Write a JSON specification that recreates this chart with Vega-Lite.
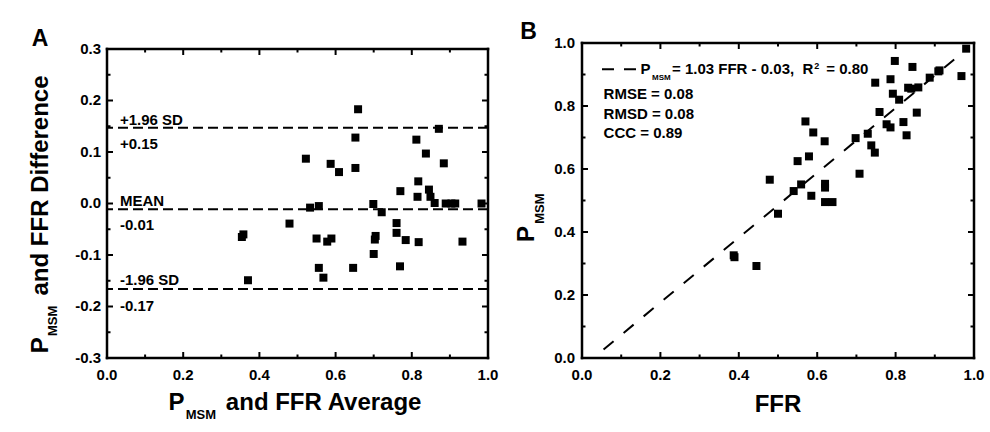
{
  "$schema": "https://vega.github.io/schema/vega-lite/v6.json",
  "background": "white",
  "padding": {"left": 29, "top": 20, "right": 5, "bottom": 5},
  "spacing": 94,
  "bounds": "flush",
  "datasets": {
    "unitTicks": [
      {"v": 0, "kind": "major"}, {"v": 0.1, "kind": "minor"}, {"v": 0.2, "kind": "major"}, {"v": 0.3, "kind": "minor"},
      {"v": 0.4, "kind": "major"}, {"v": 0.5, "kind": "minor"}, {"v": 0.6, "kind": "major"}, {"v": 0.7, "kind": "minor"},
      {"v": 0.8, "kind": "major"}, {"v": 0.9, "kind": "minor"}, {"v": 1, "kind": "major"}
    ],
    "diffTicks": [
      {"v": -0.3, "kind": "major"}, {"v": -0.25, "kind": "minor"}, {"v": -0.2, "kind": "major"}, {"v": -0.15, "kind": "minor"},
      {"v": -0.1, "kind": "major"}, {"v": -0.05, "kind": "minor"}, {"v": 0, "kind": "major"}, {"v": 0.05, "kind": "minor"},
      {"v": 0.1, "kind": "major"}, {"v": 0.15, "kind": "minor"}, {"v": 0.2, "kind": "major"}, {"v": 0.25, "kind": "minor"},
      {"v": 0.3, "kind": "major"}
    ],
    "unitLabels": [
      {"v": 0, "label": "0.0"}, {"v": 0.2, "label": "0.2"}, {"v": 0.4, "label": "0.4"},
      {"v": 0.6, "label": "0.6"}, {"v": 0.8, "label": "0.8"}, {"v": 1, "label": "1.0"}
    ],
    "diffLabels": [
      {"v": -0.3, "label": "-0.3"}, {"v": -0.2, "label": "-0.2"}, {"v": -0.1, "label": "-0.1"},
      {"v": 0, "label": "0.0"}, {"v": 0.1, "label": "0.1"}, {"v": 0.2, "label": "0.2"}, {"v": 0.3, "label": "0.3"}
    ]
  },
  "config": {
    "font": "Liberation Sans",
    "view": {"stroke": null},
    "text": {"font": "Liberation Sans", "fontWeight": "bold", "color": "black"}
  },
  "hconcat": [
    {
      "width": 381,
      "height": 315,
      "layer": [
        {
          "data": {"values": [
            {"avg": 0.354, "diff": -0.065}, {"avg": 0.358, "diff": -0.060}, {"avg": 0.370, "diff": -0.149},
            {"avg": 0.479, "diff": -0.039}, {"avg": 0.522, "diff": 0.087}, {"avg": 0.533, "diff": -0.008},
            {"avg": 0.556, "diff": -0.005}, {"avg": 0.550, "diff": -0.068}, {"avg": 0.556, "diff": -0.125},
            {"avg": 0.568, "diff": -0.144}, {"avg": 0.587, "diff": 0.077}, {"avg": 0.609, "diff": 0.061},
            {"avg": 0.578, "diff": -0.074}, {"avg": 0.589, "diff": -0.068}, {"avg": 0.659, "diff": 0.183},
            {"avg": 0.652, "diff": 0.128}, {"avg": 0.652, "diff": 0.069}, {"avg": 0.646, "diff": -0.125},
            {"avg": 0.699, "diff": -0.001}, {"avg": 0.721, "diff": -0.017}, {"avg": 0.705, "diff": -0.063},
            {"avg": 0.703, "diff": -0.070}, {"avg": 0.700, "diff": -0.098}, {"avg": 0.760, "diff": -0.038},
            {"avg": 0.760, "diff": -0.057}, {"avg": 0.770, "diff": 0.024}, {"avg": 0.769, "diff": -0.122},
            {"avg": 0.784, "diff": -0.071}, {"avg": 0.812, "diff": 0.124}, {"avg": 0.817, "diff": 0.043},
            {"avg": 0.815, "diff": 0.013}, {"avg": 0.818, "diff": -0.075}, {"avg": 0.837, "diff": 0.097},
            {"avg": 0.845, "diff": 0.027}, {"avg": 0.849, "diff": 0.013}, {"avg": 0.860, "diff": 0.001},
            {"avg": 0.871, "diff": 0.145}, {"avg": 0.884, "diff": 0.078}, {"avg": 0.889, "diff": 0.0},
            {"avg": 0.904, "diff": 0.0}, {"avg": 0.914, "diff": 0.0}, {"avg": 0.933, "diff": -0.074},
            {"avg": 0.983, "diff": 0.0}
          ]},
          "mark": {"type": "point", "shape": "square", "filled": true, "size": 64, "color": "black", "opacity": 1},
          "encoding": {
            "x": {"field": "avg", "type": "quantitative", "scale": {"domain": [0, 1], "nice": false, "zero": false}, "axis": null},
            "y": {"field": "diff", "type": "quantitative", "scale": {"domain": [-0.3, 0.31165], "nice": false, "zero": false}, "axis": null}
          }
        },
        {
          "data": {"values": [
            {"limit": "+1.96 SD", "value": 0.147},
            {"limit": "MEAN", "value": -0.011},
            {"limit": "-1.96 SD", "value": -0.166}
          ]},
          "mark": {"type": "rule", "color": "black", "strokeWidth": 2, "strokeDash": [10, 5]},
          "encoding": {
            "y": {"field": "value", "type": "quantitative", "axis": null}
          }
        },
        {
          "data": {"values": [{"edge": -0.3}, {"edge": 0.3}]},
          "mark": {"type": "rule", "color": "black", "strokeWidth": 2.5, "strokeCap": "square", "strokeDash": [2000, 1]},
          "encoding": {
            "y": {"field": "edge", "type": "quantitative", "axis": null},
            "x": {"datum": 0, "type": "quantitative", "axis": null},
            "x2": {"datum": 1}
          }
        },
        {
          "data": {"values": [{"edge": 0}, {"edge": 1}]},
          "mark": {"type": "rule", "color": "black", "strokeWidth": 2.5, "strokeCap": "square", "strokeDash": [2000, 1]},
          "encoding": {
            "x": {"field": "edge", "type": "quantitative", "axis": null},
            "y": {"datum": -0.3, "type": "quantitative", "axis": null},
            "y2": {"datum": 0.3}
          }
        },
        {
          "data": {"name": "unitTicks"},
          "transform": [{"filter": "datum.kind == 'major'"}],
          "mark": {"type": "rule", "color": "black", "strokeWidth": 2, "strokeDash": [2000, 1]},
          "encoding": {
            "x": {"field": "v", "type": "quantitative", "axis": null},
            "y": {"datum": -0.3, "type": "quantitative", "axis": null},
            "y2": {"datum": -0.28835}
          }
        },
        {
          "data": {"name": "unitTicks"},
          "transform": [{"filter": "datum.kind == 'minor'"}],
          "mark": {"type": "rule", "color": "black", "strokeWidth": 2, "strokeDash": [2000, 1]},
          "encoding": {
            "x": {"field": "v", "type": "quantitative", "axis": null},
            "y": {"datum": -0.3, "type": "quantitative", "axis": null},
            "y2": {"datum": -0.2932}
          }
        },
        {
          "data": {"name": "unitTicks"},
          "transform": [{"filter": "datum.kind == 'major'"}],
          "mark": {"type": "rule", "color": "black", "strokeWidth": 2, "strokeDash": [2000, 1]},
          "encoding": {
            "x": {"field": "v", "type": "quantitative", "axis": null},
            "y": {"datum": 0.3, "type": "quantitative", "axis": null},
            "y2": {"datum": 0.28835}
          }
        },
        {
          "data": {"name": "unitTicks"},
          "transform": [{"filter": "datum.kind == 'minor'"}],
          "mark": {"type": "rule", "color": "black", "strokeWidth": 2, "strokeDash": [2000, 1]},
          "encoding": {
            "x": {"field": "v", "type": "quantitative", "axis": null},
            "y": {"datum": 0.3, "type": "quantitative", "axis": null},
            "y2": {"datum": 0.2932}
          }
        },
        {
          "data": {"name": "diffTicks"},
          "transform": [{"filter": "datum.kind == 'major'"}],
          "mark": {"type": "rule", "color": "black", "strokeWidth": 2, "strokeDash": [2000, 1]},
          "encoding": {
            "y": {"field": "v", "type": "quantitative", "axis": null},
            "x": {"datum": 0, "type": "quantitative", "axis": null},
            "x2": {"datum": 0.01575}
          }
        },
        {
          "data": {"name": "diffTicks"},
          "transform": [{"filter": "datum.kind == 'minor'"}],
          "mark": {"type": "rule", "color": "black", "strokeWidth": 2, "strokeDash": [2000, 1]},
          "encoding": {
            "y": {"field": "v", "type": "quantitative", "axis": null},
            "x": {"datum": 0, "type": "quantitative", "axis": null},
            "x2": {"datum": 0.0092}
          }
        },
        {
          "data": {"name": "diffTicks"},
          "transform": [{"filter": "datum.kind == 'major'"}],
          "mark": {"type": "rule", "color": "black", "strokeWidth": 2, "strokeDash": [2000, 1]},
          "encoding": {
            "y": {"field": "v", "type": "quantitative", "axis": null},
            "x": {"datum": 1, "type": "quantitative", "axis": null},
            "x2": {"datum": 0.98425}
          }
        },
        {
          "data": {"name": "diffTicks"},
          "transform": [{"filter": "datum.kind == 'minor'"}],
          "mark": {"type": "rule", "color": "black", "strokeWidth": 2, "strokeDash": [2000, 1]},
          "encoding": {
            "y": {"field": "v", "type": "quantitative", "axis": null},
            "x": {"datum": 1, "type": "quantitative", "axis": null},
            "x2": {"datum": 0.9908}
          }
        },
        {
          "data": {"name": "unitLabels"},
          "mark": {"type": "text", "fontSize": 15, "align": "center", "baseline": "top"},
          "encoding": {
            "text": {"field": "label"},
            "x": {"field": "v", "type": "quantitative", "axis": null},
            "y": {"datum": -0.3194, "type": "quantitative", "axis": null}
          }
        },
        {
          "data": {"name": "diffLabels"},
          "mark": {"type": "text", "fontSize": 15, "align": "right", "baseline": "middle"},
          "encoding": {
            "text": {"field": "label"},
            "y": {"field": "v", "type": "quantitative", "axis": null},
            "x": {"datum": -0.01575, "type": "quantitative", "axis": null}
          }
        },
        {
          "data": {"values": [
            {"label": "+1.96 SD", "lx": 0.034, "ly": 0.1515},
            {"label": "+0.15", "lx": 0.034, "ly": 0.1062},
            {"label": "MEAN", "lx": 0.034, "ly": -0.0045},
            {"label": "-0.01", "lx": 0.034, "ly": -0.0511},
            {"label": "-1.96 SD", "lx": 0.034, "ly": -0.1592},
            {"label": "-0.17", "lx": 0.034, "ly": -0.2097}
          ]},
          "mark": {"type": "text", "fontSize": 15, "align": "left", "baseline": "alphabetic"},
          "encoding": {
            "text": {"field": "label"},
            "x": {"field": "lx", "type": "quantitative", "axis": null},
            "y": {"field": "ly", "type": "quantitative", "axis": null}
          }
        },
        {
          "data": {"values": [{}]},
          "mark": {"type": "text", "text": "A", "fontSize": 23, "align": "left", "baseline": "alphabetic"},
          "encoding": {"x": {"datum": -0.1976, "type": "quantitative", "axis": null}, "y": {"datum": 0.3049, "type": "quantitative", "axis": null}}
        },
        {
          "data": {"values": [{}]},
          "mark": {"type": "text", "text": "P", "fontSize": 24, "align": "left", "baseline": "alphabetic"},
          "encoding": {"x": {"datum": 0.1614, "type": "quantitative", "axis": null}, "y": {"datum": -0.4006, "type": "quantitative", "axis": null}}
        },
        {
          "data": {"values": [{}]},
          "mark": {"type": "text", "text": "MSM", "fontSize": 13, "align": "left", "baseline": "alphabetic"},
          "encoding": {"x": {"datum": 0.2066, "type": "quantitative", "axis": null}, "y": {"datum": -0.4188, "type": "quantitative", "axis": null}}
        },
        {
          "data": {"values": [{}]},
          "mark": {"type": "text", "text": "and FFR Average", "fontSize": 24, "align": "left", "baseline": "alphabetic"},
          "encoding": {"x": {"datum": 0.312, "type": "quantitative", "axis": null}, "y": {"datum": -0.4006, "type": "quantitative", "axis": null}}
        },
        {
          "data": {"values": [{}]},
          "mark": {"type": "text", "text": "P", "fontSize": 24, "angle": 270, "align": "left", "baseline": "alphabetic"},
          "encoding": {"x": {"datum": -0.154, "type": "quantitative", "axis": null}, "y": {"datum": -0.2909, "type": "quantitative", "axis": null}}
        },
        {
          "data": {"values": [{}]},
          "mark": {"type": "text", "text": "MSM", "fontSize": 13, "angle": 270, "align": "left", "baseline": "alphabetic"},
          "encoding": {"x": {"datum": -0.132, "type": "quantitative", "axis": null}, "y": {"datum": -0.2573, "type": "quantitative", "axis": null}}
        },
        {
          "data": {"values": [{}]},
          "mark": {"type": "text", "text": "and FFR Difference", "fontSize": 24, "angle": 270, "align": "left", "baseline": "alphabetic"},
          "encoding": {"x": {"datum": -0.154, "type": "quantitative", "axis": null}, "y": {"datum": -0.1786, "type": "quantitative", "axis": null}}
        }
      ]
    },
    {
      "width": 392,
      "height": 315,
      "layer": [
        {
          "data": {"values": [
            {"ffr": 0.387, "pmsm": 0.326}, {"ffr": 0.389, "pmsm": 0.320}, {"ffr": 0.445, "pmsm": 0.292},
            {"ffr": 0.479, "pmsm": 0.566}, {"ffr": 0.500, "pmsm": 0.458}, {"ffr": 0.540, "pmsm": 0.530},
            {"ffr": 0.550, "pmsm": 0.625}, {"ffr": 0.559, "pmsm": 0.551}, {"ffr": 0.570, "pmsm": 0.751},
            {"ffr": 0.579, "pmsm": 0.640}, {"ffr": 0.585, "pmsm": 0.515}, {"ffr": 0.590, "pmsm": 0.716},
            {"ffr": 0.619, "pmsm": 0.688}, {"ffr": 0.620, "pmsm": 0.553}, {"ffr": 0.620, "pmsm": 0.541},
            {"ffr": 0.620, "pmsm": 0.495}, {"ffr": 0.639, "pmsm": 0.495}, {"ffr": 0.698, "pmsm": 0.698},
            {"ffr": 0.708, "pmsm": 0.585}, {"ffr": 0.729, "pmsm": 0.712}, {"ffr": 0.738, "pmsm": 0.675},
            {"ffr": 0.747, "pmsm": 0.652}, {"ffr": 0.748, "pmsm": 0.874}, {"ffr": 0.759, "pmsm": 0.781},
            {"ffr": 0.777, "pmsm": 0.742}, {"ffr": 0.787, "pmsm": 0.732}, {"ffr": 0.787, "pmsm": 0.885},
            {"ffr": 0.798, "pmsm": 0.943}, {"ffr": 0.793, "pmsm": 0.839}, {"ffr": 0.809, "pmsm": 0.820},
            {"ffr": 0.820, "pmsm": 0.749}, {"ffr": 0.828, "pmsm": 0.707}, {"ffr": 0.832, "pmsm": 0.858},
            {"ffr": 0.843, "pmsm": 0.924}, {"ffr": 0.840, "pmsm": 0.855}, {"ffr": 0.858, "pmsm": 0.859},
            {"ffr": 0.854, "pmsm": 0.779}, {"ffr": 0.887, "pmsm": 0.890}, {"ffr": 0.909, "pmsm": 0.910},
            {"ffr": 0.912, "pmsm": 0.913}, {"ffr": 0.968, "pmsm": 0.895}, {"ffr": 0.980, "pmsm": 0.982}
          ]},
          "mark": {"type": "point", "shape": "square", "filled": true, "size": 64, "color": "black", "opacity": 1},
          "encoding": {
            "x": {"field": "ffr", "type": "quantitative", "scale": {"domain": [0, 1], "nice": false, "zero": false}, "axis": null},
            "y": {"field": "pmsm", "type": "quantitative", "scale": {"domain": [0, 1], "nice": false, "zero": false}, "axis": null}
          }
        },
        {
          "data": {"values": [
            {"ffr": 0.055, "fit": 0.027},
            {"ffr": 0.98, "fit": 0.979}
          ]},
          "mark": {"type": "line", "color": "black", "strokeWidth": 2, "strokeDash": [13, 13]},
          "encoding": {
            "x": {"field": "ffr", "type": "quantitative", "axis": null},
            "y": {"field": "fit", "type": "quantitative", "axis": null}
          }
        },
        {
          "data": {"values": [{"edge": 0}, {"edge": 1}]},
          "mark": {"type": "rule", "color": "black", "strokeWidth": 2.5, "strokeCap": "square", "strokeDash": [2000, 1]},
          "encoding": {
            "y": {"field": "edge", "type": "quantitative", "axis": null},
            "x": {"datum": 0, "type": "quantitative", "axis": null},
            "x2": {"datum": 1}
          }
        },
        {
          "data": {"values": [{"edge": 0}, {"edge": 1}]},
          "mark": {"type": "rule", "color": "black", "strokeWidth": 2.5, "strokeCap": "square", "strokeDash": [2000, 1]},
          "encoding": {
            "x": {"field": "edge", "type": "quantitative", "axis": null},
            "y": {"datum": 0, "type": "quantitative", "axis": null},
            "y2": {"datum": 1}
          }
        },
        {
          "data": {"name": "unitTicks"},
          "transform": [{"filter": "datum.kind == 'major'"}],
          "mark": {"type": "rule", "color": "black", "strokeWidth": 2, "strokeDash": [2000, 1]},
          "encoding": {
            "x": {"field": "v", "type": "quantitative", "axis": null},
            "y": {"datum": 0, "type": "quantitative", "axis": null},
            "y2": {"datum": 0.019}
          }
        },
        {
          "data": {"name": "unitTicks"},
          "transform": [{"filter": "datum.kind == 'minor'"}],
          "mark": {"type": "rule", "color": "black", "strokeWidth": 2, "strokeDash": [2000, 1]},
          "encoding": {
            "x": {"field": "v", "type": "quantitative", "axis": null},
            "y": {"datum": 0, "type": "quantitative", "axis": null},
            "y2": {"datum": 0.0111}
          }
        },
        {
          "data": {"name": "unitTicks"},
          "transform": [{"filter": "datum.kind == 'major'"}],
          "mark": {"type": "rule", "color": "black", "strokeWidth": 2, "strokeDash": [2000, 1]},
          "encoding": {
            "x": {"field": "v", "type": "quantitative", "axis": null},
            "y": {"datum": 1, "type": "quantitative", "axis": null},
            "y2": {"datum": 0.981}
          }
        },
        {
          "data": {"name": "unitTicks"},
          "transform": [{"filter": "datum.kind == 'minor'"}],
          "mark": {"type": "rule", "color": "black", "strokeWidth": 2, "strokeDash": [2000, 1]},
          "encoding": {
            "x": {"field": "v", "type": "quantitative", "axis": null},
            "y": {"datum": 1, "type": "quantitative", "axis": null},
            "y2": {"datum": 0.9889}
          }
        },
        {
          "data": {"name": "unitTicks"},
          "transform": [{"filter": "datum.kind == 'major'"}],
          "mark": {"type": "rule", "color": "black", "strokeWidth": 2, "strokeDash": [2000, 1]},
          "encoding": {
            "y": {"field": "v", "type": "quantitative", "axis": null},
            "x": {"datum": 0, "type": "quantitative", "axis": null},
            "x2": {"datum": 0.0153}
          }
        },
        {
          "data": {"name": "unitTicks"},
          "transform": [{"filter": "datum.kind == 'minor'"}],
          "mark": {"type": "rule", "color": "black", "strokeWidth": 2, "strokeDash": [2000, 1]},
          "encoding": {
            "y": {"field": "v", "type": "quantitative", "axis": null},
            "x": {"datum": 0, "type": "quantitative", "axis": null},
            "x2": {"datum": 0.0089}
          }
        },
        {
          "data": {"name": "unitTicks"},
          "transform": [{"filter": "datum.kind == 'major'"}],
          "mark": {"type": "rule", "color": "black", "strokeWidth": 2, "strokeDash": [2000, 1]},
          "encoding": {
            "y": {"field": "v", "type": "quantitative", "axis": null},
            "x": {"datum": 1, "type": "quantitative", "axis": null},
            "x2": {"datum": 0.9847}
          }
        },
        {
          "data": {"name": "unitTicks"},
          "transform": [{"filter": "datum.kind == 'minor'"}],
          "mark": {"type": "rule", "color": "black", "strokeWidth": 2, "strokeDash": [2000, 1]},
          "encoding": {
            "y": {"field": "v", "type": "quantitative", "axis": null},
            "x": {"datum": 1, "type": "quantitative", "axis": null},
            "x2": {"datum": 0.9911}
          }
        },
        {
          "data": {"name": "unitLabels"},
          "mark": {"type": "text", "fontSize": 15, "align": "center", "baseline": "top"},
          "encoding": {
            "text": {"field": "label"},
            "x": {"field": "v", "type": "quantitative", "axis": null},
            "y": {"datum": -0.0317, "type": "quantitative", "axis": null}
          }
        },
        {
          "data": {"name": "unitLabels"},
          "mark": {"type": "text", "fontSize": 15, "align": "right", "baseline": "middle"},
          "encoding": {
            "text": {"field": "label"},
            "y": {"field": "v", "type": "quantitative", "axis": null},
            "x": {"datum": -0.01786, "type": "quantitative", "axis": null}
          }
        },
        {
          "data": {"values": [{}]},
          "mark": {"type": "rule", "color": "black", "strokeWidth": 2, "strokeDash": [12, 10]},
          "encoding": {"x": {"datum": 0.051, "type": "quantitative", "axis": null}, "x2": {"datum": 0.138}, "y": {"datum": 0.9165, "type": "quantitative", "axis": null}}
        },
        {
          "data": {"values": [{}]},
          "mark": {"type": "text", "text": "P", "fontSize": 15, "align": "left", "baseline": "alphabetic"},
          "encoding": {"x": {"datum": 0.149, "type": "quantitative", "axis": null}, "y": {"datum": 0.9025, "type": "quantitative", "axis": null}}
        },
        {
          "data": {"values": [{}]},
          "mark": {"type": "text", "text": "MSM", "fontSize": 8, "align": "left", "baseline": "alphabetic"},
          "encoding": {"x": {"datum": 0.1786, "type": "quantitative", "axis": null}, "y": {"datum": 0.8815, "type": "quantitative", "axis": null}}
        },
        {
          "data": {"values": [{}]},
          "mark": {"type": "text", "text": "= 1.03 FFR - 0.03,\u00a0 R", "fontSize": 15, "align": "left", "baseline": "alphabetic"},
          "encoding": {"x": {"datum": 0.2296, "type": "quantitative", "axis": null}, "y": {"datum": 0.9025, "type": "quantitative", "axis": null}}
        },
        {
          "data": {"values": [{}]},
          "mark": {"type": "text", "text": "2", "fontSize": 9, "align": "left", "baseline": "alphabetic"},
          "encoding": {"x": {"datum": 0.5926, "type": "quantitative", "axis": null}, "y": {"datum": 0.918, "type": "quantitative", "axis": null}}
        },
        {
          "data": {"values": [{}]},
          "mark": {"type": "text", "text": "= 0.80", "fontSize": 15, "align": "left", "baseline": "alphabetic"},
          "encoding": {"x": {"datum": 0.6232, "type": "quantitative", "axis": null}, "y": {"datum": 0.9025, "type": "quantitative", "axis": null}}
        },
        {
          "data": {"values": [{}]},
          "mark": {"type": "text", "text": "RMSE = 0.08", "fontSize": 15, "align": "left", "baseline": "alphabetic"},
          "encoding": {"x": {"datum": 0.0551, "type": "quantitative", "axis": null}, "y": {"datum": 0.8213, "type": "quantitative", "axis": null}}
        },
        {
          "data": {"values": [{}]},
          "mark": {"type": "text", "text": "RMSD = 0.08", "fontSize": 15, "align": "left", "baseline": "alphabetic"},
          "encoding": {"x": {"datum": 0.0551, "type": "quantitative", "axis": null}, "y": {"datum": 0.7597, "type": "quantitative", "axis": null}}
        },
        {
          "data": {"values": [{}]},
          "mark": {"type": "text", "text": "CCC = 0.89", "fontSize": 15, "align": "left", "baseline": "alphabetic"},
          "encoding": {"x": {"datum": 0.0551, "type": "quantitative", "axis": null}, "y": {"datum": 0.6984, "type": "quantitative", "axis": null}}
        },
        {
          "data": {"values": [{}]},
          "mark": {"type": "text", "text": "B", "fontSize": 23, "align": "left", "baseline": "alphabetic"},
          "encoding": {"x": {"datum": -0.1574, "type": "quantitative", "axis": null}, "y": {"datum": 1.0137, "type": "quantitative", "axis": null}}
        },
        {
          "data": {"values": [{}]},
          "mark": {"type": "text", "text": "P", "fontSize": 24, "angle": 270, "align": "left", "baseline": "alphabetic"},
          "encoding": {"x": {"datum": -0.1235, "type": "quantitative", "axis": null}, "y": {"datum": 0.3683, "type": "quantitative", "axis": null}}
        },
        {
          "data": {"values": [{}]},
          "mark": {"type": "text", "text": "MSM", "fontSize": 13, "angle": 270, "align": "left", "baseline": "alphabetic"},
          "encoding": {"x": {"datum": -0.098, "type": "quantitative", "axis": null}, "y": {"datum": 0.4263, "type": "quantitative", "axis": null}}
        },
        {
          "data": {"values": [{}]},
          "mark": {"type": "text", "text": "FFR", "fontSize": 24, "align": "center", "baseline": "alphabetic"},
          "encoding": {"x": {"datum": 0.5, "type": "quantitative", "axis": null}, "y": {"datum": -0.1714, "type": "quantitative", "axis": null}}
        }
      ]
    }
  ]
}
